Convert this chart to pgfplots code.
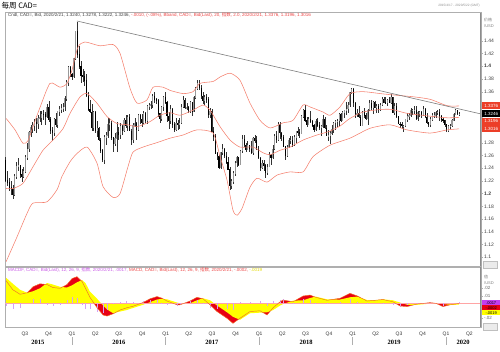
\documentclass[border=0pt]{standalone}
\usepackage{pgfplots}
\pgfplotsset{compat=1.18}
\usepackage{pgfplotstable}
\usepackage{fontspec}
\setmainfont{Liberation Sans}
\newfontfamily\cjk{Noto Sans CJK SC}
\newfontfamily\yearfont{Liberation Serif}
\definecolor{bandc}{RGB}{244,128,110}
\definecolor{trendc}{RGB}{125,125,125}
\definecolor{framec}{RGB}{175,175,175}
\definecolor{histc}{RGB}{215,160,245}
\definecolor{macdred}{RGB}{232,0,20}
\definecolor{sigyel}{RGB}{255,255,0}
\definecolor{macdlinec}{RGB}{240,110,40}
\definecolor{zerolinec}{RGB}{255,165,165}
\definecolor{boxred}{RGB}{236,62,40}
\definecolor{boxvio}{RGB}{195,60,240}
\definecolor{hdrred}{RGB}{236,70,70}
\definecolor{hdrvio}{RGB}{200,90,230}
\definecolor{hdryel}{RGB}{225,215,0}

\pgfplotstableread{
o h l c
1.2530 1.2580 1.2180 1.2205
1.2205 1.2350 1.2120 1.2172
1.2172 1.2240 1.2040 1.2098
1.2098 1.2200 1.1980 1.2070
1.2070 1.2140 1.1920 1.1985
1.1985 1.2310 1.1960 1.2270
1.2270 1.2490 1.2230 1.2435
1.2435 1.2560 1.2350 1.2440
1.2440 1.2450 1.2240 1.2300
1.2300 1.2380 1.2180 1.2270
1.2270 1.2410 1.2240 1.2350
1.2350 1.2600 1.2330 1.2570
1.2570 1.2800 1.2520 1.2700
1.2700 1.2990 1.2650 1.2960
1.2960 1.3080 1.2890 1.3040
1.3040 1.3120 1.2950 1.3070
1.3070 1.3170 1.2980 1.3120
1.3120 1.3180 1.2950 1.3090
1.3090 1.3240 1.3020 1.3185
1.3185 1.3290 1.3120 1.3190
1.3190 1.3300 1.3080 1.3250
1.3250 1.3310 1.3150 1.3240
1.3240 1.3280 1.3070 1.3210
1.3210 1.3400 1.3180 1.3360
1.3360 1.3460 1.3120 1.3160
1.3160 1.3210 1.2940 1.2990
1.2990 1.3040 1.2830 1.2950
1.2950 1.3190 1.2910 1.3170
1.3170 1.3260 1.3040 1.3080
1.3080 1.3300 1.3030 1.3290
1.3290 1.3370 1.3220 1.3320
1.3320 1.3400 1.3260 1.3340
1.3340 1.3420 1.3280 1.3360
1.3360 1.3530 1.3300 1.3490
1.3490 1.3790 1.3460 1.3740
1.3740 1.4000 1.3690 1.3980
1.3980 1.4010 1.3830 1.3880
1.3880 1.3900 1.3780 1.3840
1.3840 1.4130 1.3820 1.4120
1.4120 1.4550 1.4100 1.4540
1.4540 1.4690 1.4130 1.4180
1.4180 1.4320 1.3960 1.4000
1.4000 1.4080 1.3730 1.3850
1.3850 1.3950 1.3750 1.3840
1.3840 1.3930 1.3690 1.3780
1.3780 1.3880 1.3510 1.3530
1.3530 1.3600 1.3300 1.3320
1.3320 1.3470 1.3260 1.3280
1.3280 1.3410 1.2990 1.3040
1.3040 1.3300 1.2980 1.3270
1.3270 1.3300 1.2950 1.2980
1.2980 1.3140 1.2890 1.3020
1.3020 1.3040 1.2830 1.2840
1.2840 1.2880 1.2640 1.2680
1.2680 1.2700 1.2500 1.2540
1.2540 1.2920 1.2460 1.2880
1.2880 1.2960 1.2770 1.2910
1.2910 1.3190 1.2880 1.3090
1.3090 1.3190 1.2990 1.3110
1.3110 1.3140 1.2840 1.2880
1.2880 1.2890 1.2650 1.2790
1.2790 1.2950 1.2740 1.2860
1.2860 1.3120 1.2660 1.2960
1.2960 1.3050 1.2840 1.2920
1.2920 1.3110 1.2860 1.3050
1.3050 1.3070 1.2920 1.2980
1.2980 1.3190 1.2970 1.3150
1.3150 1.3230 1.3030 1.3070
1.3070 1.3230 1.2990 1.3190
1.3190 1.3250 1.2980 1.2980
1.2980 1.3020 1.2760 1.2840
1.2840 1.3110 1.2800 1.3070
1.3070 1.3190 1.3040 1.3110
1.3110 1.3120 1.2840 1.3000
1.3000 1.3250 1.2980 1.3230
1.3230 1.3250 1.3090 1.3170
1.3170 1.3250 1.3050 1.3120
1.3120 1.3290 1.3090 1.3260
1.3260 1.3280 1.3110 1.3150
1.3150 1.3390 1.3100 1.3370
1.3370 1.3420 1.3320 1.3390
1.3390 1.3460 1.3330 1.3400
1.3400 1.3570 1.3350 1.3530
1.3530 1.3590 1.3420 1.3480
1.3480 1.3500 1.3400 1.3470
1.3470 1.3480 1.3210 1.3260
1.3260 1.3270 1.3110 1.3180
1.3180 1.3380 1.3140 1.3360
1.3360 1.3530 1.3300 1.3510
1.3510 1.3600 1.3400 1.3430
1.3430 1.3450 1.3120 1.3220
1.3220 1.3280 1.3010 1.3140
1.3140 1.3390 1.3090 1.3330
1.3330 1.3350 1.3030 1.3080
1.3080 1.3120 1.2970 1.3000
1.3000 1.3180 1.2990 1.3110
1.3110 1.3160 1.3000 1.3090
1.3090 1.3190 1.3020 1.3110
1.3110 1.3400 1.3090 1.3360
1.3360 1.3530 1.3340 1.3460
1.3460 1.3500 1.3330 1.3350
1.3350 1.3420 1.3310 1.3350
1.3350 1.3380 1.3260 1.3300
1.3300 1.3450 1.3260 1.3430
1.3430 1.3440 1.3220 1.3290
1.3290 1.3530 1.3280 1.3510
1.3510 1.3680 1.3490 1.3650
1.3650 1.3790 1.3620 1.3730
1.3730 1.3780 1.3620 1.3660
1.3660 1.3700 1.3490 1.3530
1.3530 1.3590 1.3410 1.3460
1.3460 1.3540 1.3390 1.3510
1.3510 1.3560 1.3420 1.3480
1.3480 1.3510 1.3190 1.3240
1.3240 1.3340 1.3180 1.3290
1.3290 1.3330 1.2960 1.2970
1.2970 1.3040 1.2830 1.2900
1.2900 1.2930 1.2620 1.2630
1.2630 1.2660 1.2530 1.2590
1.2590 1.2600 1.2390 1.2400
1.2400 1.2660 1.2380 1.2640
1.2640 1.2780 1.2600 1.2690
1.2690 1.2720 1.2560 1.2590
1.2590 1.2660 1.2460 1.2490
1.2490 1.2570 1.2370 1.2380
1.2380 1.2410 1.2060 1.2120
1.2120 1.2230 1.2070 1.2190
1.2190 1.2360 1.2150 1.2320
1.2320 1.2510 1.2280 1.2480
1.2480 1.2590 1.2420 1.2570
1.2570 1.2580 1.2440 1.2460
1.2460 1.2680 1.2450 1.2670
1.2670 1.2920 1.2640 1.2850
1.2850 1.2920 1.2730 1.2760
1.2760 1.2790 1.2660 1.2690
1.2690 1.2820 1.2680 1.2750
1.2750 1.2770 1.2650 1.2700
1.2700 1.2830 1.2620 1.2640
1.2640 1.2890 1.2610 1.2860
1.2860 1.2920 1.2790 1.2830
1.2830 1.2900 1.2680 1.2700
1.2700 1.2740 1.2550 1.2560
1.2560 1.2570 1.2360 1.2400
1.2400 1.2530 1.2390 1.2470
1.2470 1.2520 1.2360 1.2440
1.2440 1.2460 1.2250 1.2330
1.2330 1.2460 1.2290 1.2420
1.2420 1.2650 1.2410 1.2600
1.2600 1.2620 1.2450 1.2560
1.2560 1.2760 1.2550 1.2700
1.2700 1.2930 1.2680 1.2900
1.2900 1.2990 1.2800 1.2840
1.2840 1.3130 1.2830 1.3090
1.3090 1.3120 1.2860 1.2950
1.2950 1.2960 1.2820 1.2890
1.2890 1.2920 1.2730 1.2740
1.2740 1.2750 1.2530 1.2600
1.2600 1.2760 1.2580 1.2730
1.2730 1.2880 1.2710 1.2840
1.2840 1.2900 1.2780 1.2840
1.2840 1.2900 1.2730 1.2770
1.2770 1.2920 1.2740 1.2880
1.2880 1.2990 1.2800 1.2970
1.2970 1.3050 1.2900 1.2960
1.2960 1.3020 1.2880 1.2940
1.2940 1.3240 1.2930 1.3210
1.3210 1.3330 1.3190 1.3300
1.3300 1.3390 1.3130 1.3150
1.3150 1.3210 1.3050 1.3080
1.3080 1.3200 1.3070 1.3160
1.3160 1.3290 1.3110 1.3130
1.3130 1.3160 1.3040 1.3070
1.3070 1.3100 1.2960 1.3010
1.3010 1.3170 1.2990 1.3140
1.3140 1.3190 1.3050 1.3070
1.3070 1.3130 1.3000 1.3040
1.3040 1.3070 1.2910 1.3050
1.3050 1.3230 1.3030 1.3170
1.3170 1.3200 1.3010 1.3030
1.3030 1.3080 1.2900 1.2910
1.2910 1.3000 1.2820 1.2910
1.2910 1.2980 1.2780 1.2940
1.2940 1.3070 1.2920 1.3010
1.3010 1.3130 1.2950 1.3110
1.3110 1.3150 1.3000 1.3130
1.3130 1.3170 1.3040 1.3140
1.3140 1.3260 1.3060 1.3240
1.3240 1.3260 1.3130 1.3150
1.3150 1.3290 1.3140 1.3270
1.3270 1.3320 1.3190 1.3300
1.3300 1.3440 1.3240 1.3330
1.3330 1.3440 1.3260 1.3390
1.3390 1.3600 1.3360 1.3590
1.3590 1.3665 1.3560 1.3640
1.3640 1.3660 1.3360 1.3420
1.3420 1.3440 1.3190 1.3250
1.3250 1.3330 1.3210 1.3260
1.3260 1.3380 1.3180 1.3200
1.3200 1.3230 1.3070 1.3070
1.3070 1.3300 1.3060 1.3270
1.3270 1.3340 1.3190 1.3230
1.3230 1.3270 1.3150 1.3170
1.3170 1.3330 1.3070 1.3310
1.3310 1.3470 1.3300 1.3420
1.3420 1.3470 1.3310 1.3350
1.3350 1.3450 1.3250 1.3430
1.3430 1.3460 1.3340 1.3350
1.3350 1.3400 1.3260 1.3370
1.3370 1.3410 1.3270 1.3310
1.3310 1.3420 1.3290 1.3390
1.3390 1.3520 1.3380 1.3480
1.3480 1.3520 1.3420 1.3430
1.3430 1.3520 1.3400 1.3420
1.3420 1.3490 1.3380 1.3470
1.3470 1.3520 1.3420 1.3430
1.3430 1.3560 1.3410 1.3510
1.3510 1.3520 1.3260 1.3270
1.3270 1.3420 1.3240 1.3370
1.3370 1.3430 1.3180 1.3210
1.3210 1.3220 1.3090 1.3090
1.3090 1.3120 1.3030 1.3080
1.3080 1.3120 1.3020 1.3060
1.3060 1.3070 1.2970 1.3060
1.3060 1.3170 1.3050 1.3160
1.3160 1.3270 1.3120 1.3220
1.3220 1.3270 1.3160 1.3230
1.3230 1.3350 1.3200 1.3310
1.3310 1.3330 1.3230 1.3310
1.3310 1.3380 1.3250 1.3310
1.3310 1.3380 1.3160 1.3170
1.3170 1.3290 1.3140 1.3270
1.3270 1.3300 1.3200 1.3270
1.3270 1.3290 1.3180 1.3240
1.3240 1.3380 1.3220 1.3320
1.3320 1.3350 1.3190 1.3200
1.3200 1.3260 1.3100 1.3120
1.3120 1.3130 1.3040 1.3080
1.3080 1.3200 1.3040 1.3160
1.3160 1.3260 1.3140 1.3230
1.3230 1.3280 1.3190 1.3230
1.3230 1.3300 1.3190 1.3270
1.3270 1.3320 1.3230 1.3280
1.3280 1.3330 1.3140 1.3220
1.3220 1.3240 1.3120 1.3160
1.3160 1.3190 1.3110 1.3150
1.3150 1.3160 1.3050 1.3080
1.3080 1.3100 1.2960 1.2990
1.2990 1.3070 1.2960 1.3060
1.3060 1.3090 1.3020 1.3060
1.3060 1.3170 1.3040 1.3150
1.3150 1.3260 1.3140 1.3240
1.3240 1.3330 1.3230 1.3310
1.3310 1.3320 1.3240 1.3250
1.3240 1.3278 1.3222 1.3246
}\candles

% MACD values in thousandths (30 = 0.030)
\pgfplotstableread{
w m s
0.2 30 34
4 18 26
8 12 18
12 14 14
15.2 22 16
19.1 26 20
23 25 27
26.4 21 25
30.3 20 22
34.2 25 21
37 33 24
39.8 35.5 28
42.6 29 31
44.5 20 27
47 8 15.5
51 -6 6
54.3 -15.6 -3
56.5 -17 -8
59.9 -14 -13.3
63.8 -9 -11
67.5 -6 -9
71 -4 -6.3
76.6 1 -2
80.5 6 1.5
84.4 9 5
87 7 6
90 3 5.3
95.6 -2 1
97.3 -2 0
102.8 3 0
106.7 8 4
110.1 6 6.7
114 -2 4
117.9 -11 -3
123.5 -20 -12
126.8 -26.7 -18
130.7 -20 -22
136.3 -11 -13.3
141.9 -10 -12.5
145.8 -15.6 -12
149.2 -6 -9
153.1 2 -3
154.7 4.4 -1
160.3 2 3.5
165.9 9.7 4
169.8 11 7
173 8 8.9
179.3 4 5.3
186.5 6.7 5
192.1 13.3 8
196 10 8.9
201.6 3 4.4
206 4 4
210.5 5 5.3
216.1 2 4
220 -3.6 1
223.9 -4.4 -2
229.5 -1 -2
236.8 0.9 -0.5
240 0 0
244 -4.4 -1
248 -2 -2
253 -0.2 -1.9
}\macd

\begin{document}
\begin{tikzpicture}[x=1pt,y=1pt]
\path[use as bounding box] (0,0) rectangle (500,352);

% ---------------- main price panel ----------------
\begin{axis}[
  at={(5pt,86pt)}, anchor=south west,
  scale only axis, width=476pt, height=253.3pt,
  xmin=-0.4, xmax=265.2, ymin=1.0863, ymax=1.484,
  xtick=\empty,
  ytick={1.1,1.12,1.14,1.16,1.18,1.2,1.22,1.24,1.26,1.28,1.3,1.32,1.34,1.36,1.38,1.4,1.42,1.44},
  yticklabels={1.1,1.12,1.14,1.16,1.18,\textbf{1.2},1.22,1.24,1.26,1.28,{},{},{},1.36,1.38,\textbf{1.4},1.42,1.44},
  ytick pos=right, yticklabel pos=right,
  tick align=outside, major tick length=2pt,
  tick style={framec},
  yticklabel style={font=\fontsize{5}{6}\selectfont, text=black!75, anchor=west, inner sep=0.5pt, xshift=0.5pt},
  axis line style={framec},
]
% wicks
\addplot[draw=none, mark=none, error bars/.cd, y dir=both, y explicit, error mark=none,
  error bar style={draw=black!80, line width=0.45pt}]
  table[x expr=\coordindex, y expr={(\thisrow{h}+\thisrow{l})/2}, y error expr={(\thisrow{h}-\thisrow{l})/2}] {\candles};
% rising bodies
\addplot[draw=none, mark=none, restrict expr to domain={\thisrow{c}-\thisrow{o}}{0:1},
  error bars/.cd, y dir=both, y explicit, error mark=none,
  error bar style={draw=black!40, line width=1.1pt}]
  table[x expr=\coordindex, y expr={(\thisrow{o}+\thisrow{c})/2}, y error expr={abs(\thisrow{c}-\thisrow{o})/2+0.0005}] {\candles};
% falling bodies
\addplot[draw=none, mark=none, restrict expr to domain={\thisrow{c}-\thisrow{o}}{-1:-0.00001},
  error bars/.cd, y dir=both, y explicit, error mark=none,
  error bar style={draw=black, line width=1.1pt}]
  table[x expr=\coordindex, y expr={(\thisrow{o}+\thisrow{c})/2}, y error expr={abs(\thisrow{c}-\thisrow{o})/2+0.0005}] {\candles};
% Bollinger bands
\addplot[bandc, line width=0.55pt, smooth, tension=0.4] coordinates {
(0.2,1.318) (5.2,1.300) (9.6,1.279) (12.4,1.283) (15.2,1.305) (19.1,1.335) (24.7,1.373) (30.3,1.367) (34.2,1.373) (37,1.394) (40.3,1.430) (44.2,1.438) (52.6,1.432) (59.9,1.434) (63.8,1.420) (69.4,1.365) (73.3,1.342) (78.8,1.347) (82.2,1.367) (87.8,1.367) (91.7,1.362) (99,1.357) (104.5,1.360) (108.4,1.373) (115.7,1.376) (119.6,1.383) (125.2,1.389) (130.7,1.378) (136.3,1.342) (141.9,1.315) (147.5,1.303) (154.7,1.311) (160.3,1.315) (165.9,1.339) (169.8,1.336) (177.1,1.328) (181,1.323) (186.5,1.336) (192.1,1.357) (199.4,1.360) (208.9,1.357) (215.6,1.355) (227.3,1.352) (236.8,1.348) (246.3,1.338) (253,1.3376)};
\addplot[bandc, line width=0.55pt, smooth, tension=0.4] coordinates {
(0.2,1.208) (4.1,1.208) (9.6,1.216) (15.2,1.242) (20.8,1.268) (26.4,1.284) (32,1.302) (35.9,1.326) (41.5,1.352) (45.4,1.357) (50.9,1.342) (56.5,1.321) (62.1,1.310) (68.2,1.308) (73.3,1.305) (80.5,1.313) (86,1.323) (91.7,1.327) (97.3,1.323) (104.5,1.331) (110.1,1.339) (114,1.331) (119.6,1.305) (125.2,1.284) (130.7,1.273) (138,1.273) (143.6,1.264) (147.5,1.261) (153.1,1.268) (158.7,1.273) (165.9,1.284) (173.7,1.292) (180.9,1.298) (186.5,1.306) (192.1,1.318) (199.4,1.328) (208.9,1.332) (215.6,1.332) (223.9,1.326) (236.8,1.3215) (246.3,1.319) (253,1.3196)};
\addplot[bandc, line width=0.55pt, smooth, tension=0.4] coordinates {
(0.2,1.093) (6.3,1.132) (11.9,1.169) (15.2,1.185) (23,1.187) (28.6,1.206) (31.4,1.227) (35.9,1.250) (39.8,1.263) (45.4,1.273) (50.9,1.248) (54.3,1.211) (59.9,1.194) (63.8,1.200) (68.2,1.242) (71,1.265) (76.6,1.273) (84.4,1.280) (91.7,1.287) (99,1.292) (106.7,1.300) (115.7,1.295) (119.6,1.258) (123.5,1.221) (126.8,1.174) (129.1,1.166) (131.9,1.177) (136.3,1.210) (140.2,1.224) (145.8,1.218) (151.4,1.229) (158.6,1.234) (165.9,1.234) (171.5,1.258) (181,1.276) (192.1,1.287) (203.3,1.3025) (214.4,1.308) (223.9,1.300) (236.8,1.295) (246.3,1.300) (253,1.3016)};
\addplot[trendc, line width=0.6pt] coordinates {(39.8,1.4709) (265.2,1.3250)};
\draw[black!45, line width=1.3pt] (rel axis cs:1,0) -- (rel axis cs:1,1);
\end{axis}

% ---------------- MACD panel ----------------
\begin{axis}[
  at={(5pt,25pt)}, anchor=south west,
  scale only axis, width=476pt, height=60pt,
  xmin=-0.4, xmax=265.2, ymin=-31.6, ymax=48.4,
  xtick={10.71,23.86,37,50,63,76.14,89.29,102.14,115.14,128.29,141.43,154.29,167.29,180.43,193.57,206.43,219.43,232.57,245.71,258.71},
  xticklabels={Q3,Q4,Q1,Q2,Q3,Q4,Q1,Q2,Q3,Q4,Q1,Q2,Q3,Q4,Q1,Q2,Q3,Q4,Q1,Q2},
  xticklabel style={font=\fontsize{5}{6}\selectfont, text=black!80, inner sep=0pt, anchor=north, yshift=-2.5pt},
  extra x ticks={18,63.2,115.1,167.6,216.7,255.2},
  extra x tick labels={2015,2016,2017,2018,2019,2020},
  extra x tick style={xticklabel style={font=\yearfont\bfseries\fontsize{6.5}{7}\selectfont, text=black, yshift=-8.5pt}},
  ytick={-20,10,20},
  yticklabels={-.02,.01,.02},
  ytick pos=right, yticklabel pos=right,
  tick align=outside, major tick length=2pt,
  x tick style={draw=none},
  y tick style={framec},
  yticklabel style={font=\fontsize{4.5}{5}\selectfont, text=black!60, anchor=west, inner sep=0.5pt, xshift=0.5pt},
  axis line style={framec},
]
\addplot[fill=macdred, draw=none] table[x=w, y=m] {\macd} \closedcycle;
\addplot[fill=sigyel, draw=none] table[x=w, y=s] {\macd} \closedcycle;
\addplot[zerolinec, line width=0.9pt] coordinates {(-0.4,0) (265.2,0)};
\addplot[ycomb, color=histc, line width=0.6pt, mark=none] table[x=w, y expr={\thisrow{m}-\thisrow{s}}] {\macd};
\addplot[macdlinec, line width=0.45pt] table[x=w, y=m] {\macd};
\draw[black!45, line width=1.3pt] (rel axis cs:1,0) -- (rel axis cs:1,1);
\end{axis}

% year separators under the Q1 labels
\foreach \xx in {72.0,165.7,259.2,352.6,446.1} \draw[framec, line width=0.6pt] (\xx,7) -- (\xx,15);

% ---------------- texts ----------------
\node[anchor=west, inner sep=0pt, font=\cjk\fontsize{7.5}{8}\selectfont] at (1.5,346) {每周 CAD=};
\node[anchor=east, inner sep=0pt, font=\fontsize{3.2}{4}\selectfont, text=black!45] at (480,346) {2015/4/17 - 2020/5/22 (GMT)};
\node[anchor=west, inner sep=0pt, font=\fontsize{4.5}{5}\selectfont] at (8,336.5)
  {\textcolor{black!75}{Cndl, CAD=, Bid, 2020/2/21, 1.3240, 1.3278, 1.3222, 1.3246,} \textcolor{hdrred}{-.0010, (-.08\%), Bband, CAD=, Bid(Last), 20, {\cjk 指数}, 2.0, 2020/2/21, 1.3376, 1.3196, 1.3016}};
\node[anchor=west, inner sep=0pt, font=\cjk\fontsize{4}{5}\selectfont, text=black!50] at (484,331.5) {价格};
\node[anchor=west, inner sep=0pt, font=\fontsize{4}{5}\selectfont, text=black!50] at (484,326) {/USD};
\node[anchor=west, inner sep=0pt, font=\fontsize{4.5}{5}\selectfont] at (8,81.5)
  {\textcolor{hdrvio}{MACDF, CAD=, Bid(Last), 12, 26, 9, {\cjk 指数}, 2020/2/21, .0017,} \textcolor{hdrred}{MACD, CAD=, Bid(Last), 12, 26, 9, {\cjk 指数}, 2020/2/21, -.0002,} \textcolor{hdryel}{-.0019}};
\node[anchor=west, inner sep=0pt, font=\cjk\fontsize{4}{5}\selectfont, text=black!50] at (484,75) {值};
\node[anchor=west, inner sep=0pt, font=\fontsize{4}{5}\selectfont, text=black!50] at (484,69) {/USD};
\node[anchor=west, fill=boxred, text=white, minimum width=18pt, minimum height=7pt, inner sep=0pt, font=\fontsize{4.5}{5}\selectfont] at (482,246.3) {1.3376};
\node[anchor=west, fill=black, text=white, minimum width=18pt, minimum height=7pt, inner sep=0pt, font=\fontsize{4.5}{5}\selectfont] at (482,238.3) {1.3246};
\node[anchor=west, fill=boxred, text=white, minimum width=18pt, minimum height=7pt, inner sep=0pt, font=\fontsize{4.5}{5}\selectfont] at (482,230.8) {1.3196};
\node[anchor=west, fill=boxred, text=white, minimum width=18pt, minimum height=7pt, inner sep=0pt, font=\fontsize{4.5}{5}\selectfont] at (482,223.3) {1.3016};
\node[anchor=west, fill=boxvio, text=black, minimum width=18pt, minimum height=5pt, inner sep=0pt, font=\fontsize{4}{4.5}\selectfont] at (482,49.3) {.0017};
\node[anchor=west, fill=macdred, text=black, minimum width=18pt, minimum height=5pt, inner sep=0pt, font=\fontsize{4}{4.5}\selectfont] at (482,44.3) {-.0002};
\node[anchor=west, fill=sigyel, text=black, minimum width=18pt, minimum height=5pt, inner sep=0pt, font=\fontsize{4}{4.5}\selectfont] at (482,39.3) {-.0019};
\draw[black!25, fill=black!8] (483,84) rectangle (497,90.5);
\draw[black!25, fill=black!8] (483,22) rectangle (497,28.5);
\end{tikzpicture}
\end{document}
